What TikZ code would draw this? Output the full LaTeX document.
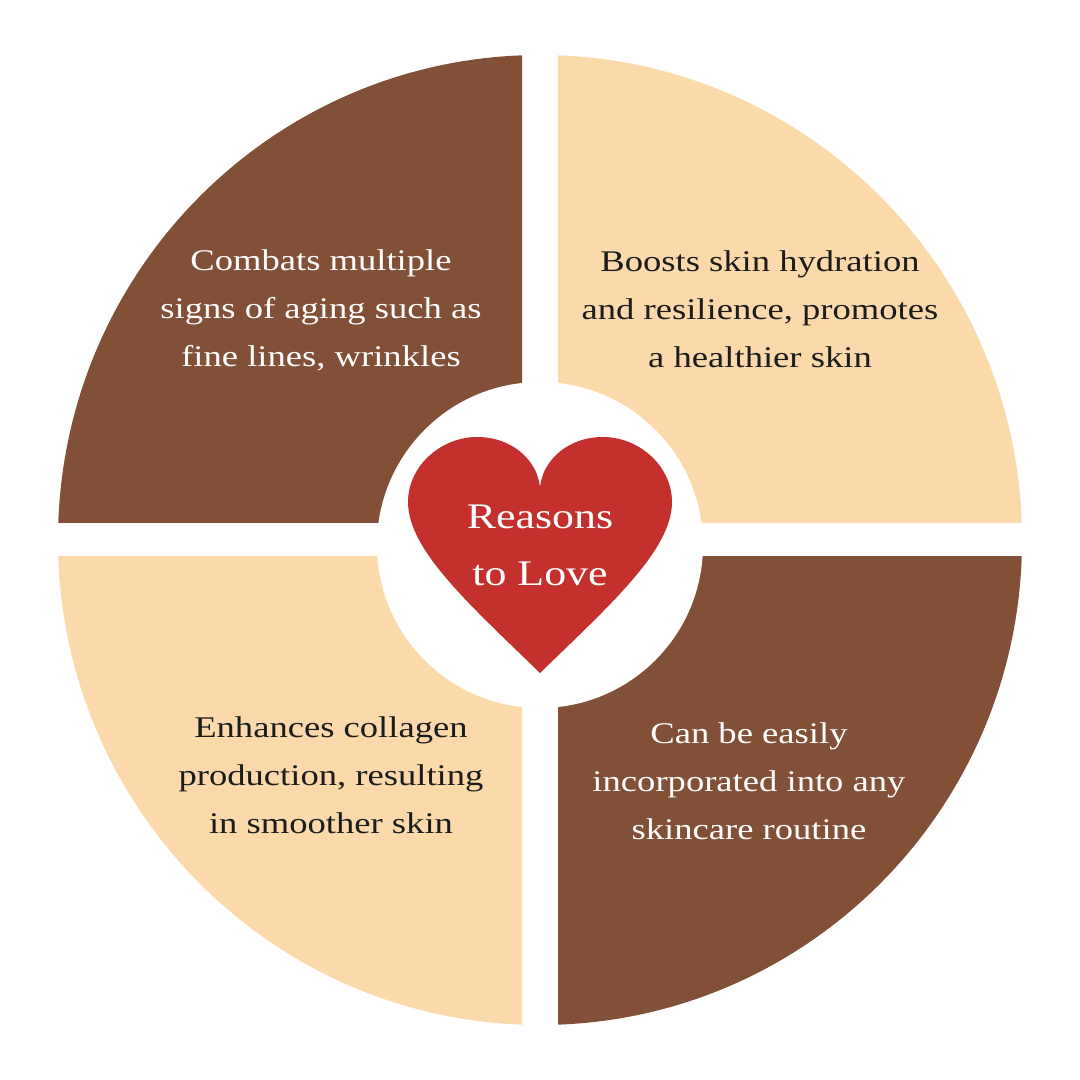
\documentclass[tikz,border=0pt]{standalone}
\usepackage{fontspec}
\setmainfont{Liberation Serif}[FakeStretch=1.22]
\definecolor{cocoa}{HTML}{825036}
\definecolor{peach}{HTML}{FBD9AA}
\definecolor{heartred}{HTML}{C3302D}
\definecolor{ink}{HTML}{1C1C1C}

\begin{document}
\begin{tikzpicture}[x=1pt,y=1pt,
   reason/.style={align=center,font=\fontsize{30}{48}\selectfont},
   ondark/.style={reason,text=white},
   onlight/.style={reason,text=ink}]
   \useasboundingbox[fill=white] (0,0) rectangle (1080,1080);
   \foreach \xa/\ya/\xb/\yb/\col in {0/557/522/1080/cocoa, 558/557/1080/1080/peach,
      0/0/522/523/peach, 558/0/1080/523/cocoa}{
     \begin{scope}
       \clip (\xa,\ya) rectangle (\xb,\yb);
       \fill[\col] (540,540) ellipse[x radius=482, y radius=485];
     \end{scope}
   }
   \fill[white] (540,535) circle[radius=163];
   \fill[heartred] (540,407) .. controls (470,475) and (408,530) .. (408,578)
      .. controls (408,614) and (441,643) .. (477,643)
      .. controls (512,643) and (537,620) .. (540,593)
      .. controls (543,620) and (568,643) .. (603,643)
      .. controls (639,643) and (672,614) .. (672,578)
      .. controls (672,530) and (610,475) .. (540,407) -- cycle;
   \node[ondark] (aging) at (321,770) {Combats multiple\\signs of aging such as\\fine lines, wrinkles};
   \node[onlight] (hydration) at (760,771) {Boosts skin hydration\\and resilience, promotes\\a healthier skin};
   \node[onlight] (collagen) at (331,305) {Enhances collagen\\production, resulting\\in smoother skin};
   \node[ondark] (routine) at (749,299) {Can be easily\\incorporated into any\\skincare routine};
   \node[text=white, align=center, font=\fontsize{36}{57}\selectfont] (love) at (540,535) {Reasons\\to Love};
\end{tikzpicture}
\end{document}
